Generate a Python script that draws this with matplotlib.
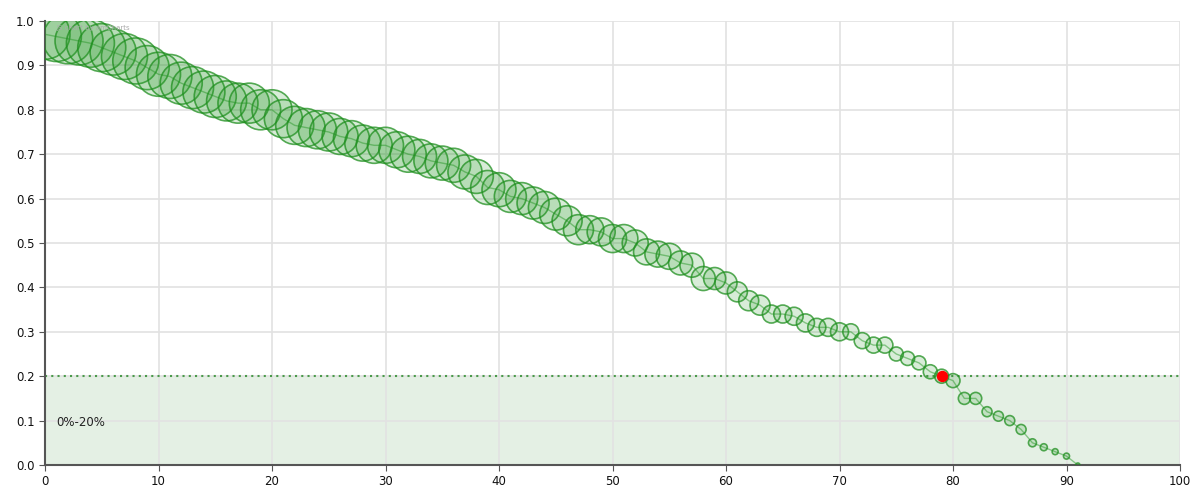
import numpy as np
import matplotlib.pyplot as plt

# data
x_vals = list(range(0, 92))
y_vals = [0.97, 0.965, 0.96, 0.955, 0.95, 0.94, 0.93, 0.92, 0.91, 0.895,
          0.88, 0.875, 0.86, 0.85, 0.84, 0.83, 0.82, 0.815, 0.815, 0.80,
          0.80, 0.78, 0.765, 0.76, 0.755, 0.75, 0.74, 0.735, 0.725, 0.72,
          0.72, 0.71, 0.70, 0.695, 0.685, 0.68, 0.675, 0.66, 0.65, 0.625,
          0.62, 0.605, 0.60, 0.59, 0.58, 0.565, 0.55, 0.53, 0.53, 0.525,
          0.51, 0.51, 0.50, 0.48, 0.475, 0.47, 0.455, 0.45, 0.42, 0.42,
          0.41, 0.39, 0.37, 0.36, 0.34, 0.34, 0.335, 0.32, 0.31, 0.31,
          0.30, 0.30, 0.28, 0.27, 0.27, 0.25, 0.24, 0.23, 0.21, 0.20,
          0.19, 0.15, 0.15, 0.12, 0.11, 0.10, 0.08, 0.05, 0.04, 0.03,
          0.02, 0.0]
# bubble values (relative size)
bubble_vals = [25, 25, 25, 24, 24, 24, 23, 23, 23, 22,
               22, 22, 21, 21, 21, 21, 20, 20, 20, 20,
               20, 19, 19, 19, 19, 19, 18, 18, 18, 18,
               18, 18, 18, 17, 17, 17, 17, 17, 17, 17,
               17, 16, 16, 16, 16, 16, 15, 15, 14, 14,
               14, 14, 13, 13, 13, 13, 12, 12, 12, 11,
               11, 10, 10, 10, 9, 9, 9, 9, 9, 9,
               9, 8, 8, 8, 8, 7, 7, 7, 7, 7,
               7, 6, 6, 5, 5, 5, 5, 4, 3.5, 3,
               3, 2]
highlight_x = 79
highlight_y = 0.20
guide_lo, guide_hi = 0.0, 0.2
guide_label = '0%-20%'

green = '#2a9a2a'

fig = plt.figure(figsize=(12, 5), dpi=100)
ax = fig.add_axes([45 / 1200, 35 / 500, 1135 / 1200, 444 / 500])

ax.axhspan(guide_lo, guide_hi, color='#e4f0e4', zorder=0)
ax.axhline(guide_hi, color='#4a9a4a', linestyle=(0, (1, 2)), linewidth=1.5, zorder=1)
ax.text(1, 0.095, guide_label, fontsize=8.5, color='#222222', va='center', ha='left')

ax.plot(x_vals, y_vals, color=green, linewidth=1, alpha=0.5, zorder=2)

# radius in px -> scatter size in pt^2
sizes = [(1.44 * r) ** 2 for r in bubble_vals]
ax.scatter(x_vals, y_vals, s=sizes, facecolor=(0.16, 0.6, 0.16, 0.18),
           edgecolor=(0.12, 0.56, 0.12, 0.75), linewidth=1.2, zorder=3)
ax.scatter([highlight_x], [highlight_y], s=(1.44 * 5) ** 2, color='#ff0000', zorder=4)

ax.set_xlim(0, 100)
ax.set_ylim(0, 1)
ax.set_xticks(np.arange(0, 101, 10))
ax.set_yticks(np.arange(0, 1.01, 0.1))
ax.set_yticklabels(['%.1f' % v for v in np.arange(0, 1.01, 0.1)])
ax.grid(True, color='#e2e2e2', linewidth=1.2)
ax.set_axisbelow(True)
ax.tick_params(labelsize=8.5, colors='#555555', labelcolor='#111111', length=4)
for side in ['top', 'right']:
    ax.spines[side].set_visible(False)
for side in ['left', 'bottom']:
    ax.spines[side].set_color('#555555')
    ax.spines[side].set_linewidth(1.5)

ax.text(1, 0.985, 'JS chart by amCharts', fontsize=5, color='#aaaaaa', va='center')

plt.savefig('out.png')
